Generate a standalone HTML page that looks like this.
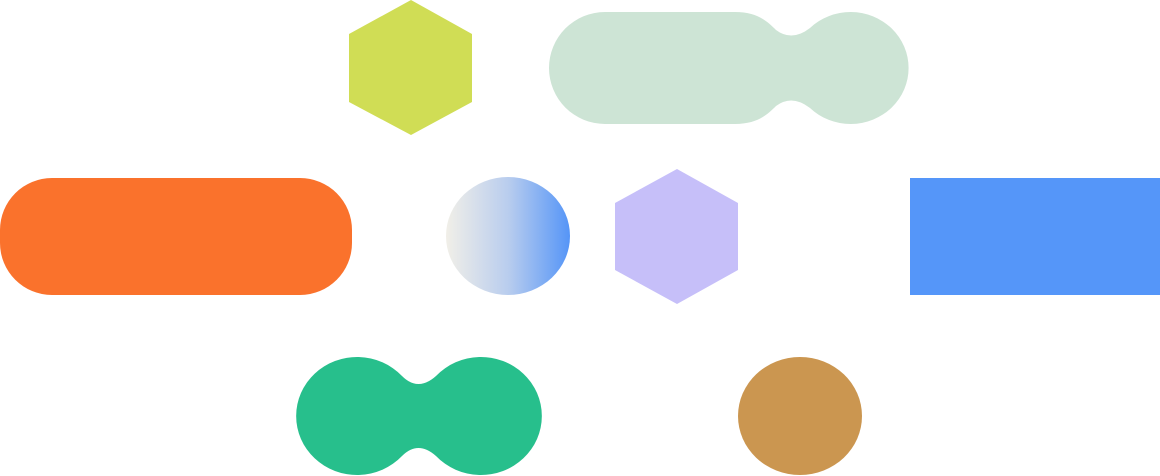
<!DOCTYPE html>
<html><head><meta charset="utf-8"><style>html,body{margin:0;padding:0;background:#fff;}svg{display:block}</style></head>
<body>
<svg width="1160" height="476" viewBox="0 0 1160 476" xmlns="http://www.w3.org/2000/svg">
<defs>
<linearGradient id="g" x1="446" y1="0" x2="570" y2="0" gradientUnits="userSpaceOnUse">
<stop offset="0" stop-color="#F1EFE8"/><stop offset="0.5" stop-color="#B9CDEE"/><stop offset="1" stop-color="#5595F7"/>
</linearGradient>
</defs>
<polygon points="411,0 472,34 472,102 411,135 349,102 349,34" fill="#D0DD55"/>
<path d="M605,12 H735 C758,12 768,22 776,30 Q792,42 810,28 A58,56 0 1 1 810,108 Q792,94 776,106 C768,114 758,124 735,124 H605 A56,56 0 0 1 605,12 Z" fill="#CDE4D5"/>
<rect x="0" y="178" width="352" height="117" rx="52" ry="52" fill="#FA722C"/>
<ellipse cx="508" cy="236" rx="62" ry="59" fill="url(#g)"/>
<polygon points="677,169 738,203 738,270 677,304 615,270 615,203" fill="#C6BFF9"/>
<rect x="910" y="178" width="250" height="117" fill="#5596F9"/>
<path d="M402,376 Q418,392 436,376 A61,59 0 1 1 436,456 Q418,440 402,456 A61,59 0 1 1 402,376 Z" fill="#27BF8C"/>
<ellipse cx="800" cy="416" rx="62" ry="59" fill="#CB9650"/>
</svg>
</body></html>
